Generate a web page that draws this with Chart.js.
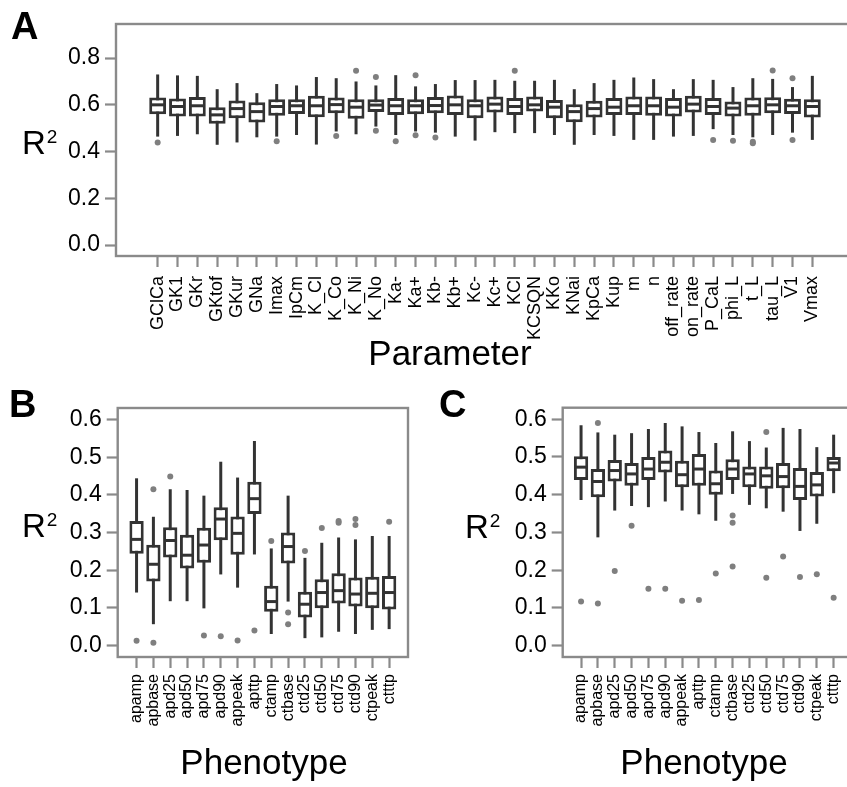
<!DOCTYPE html>
<html>
<head>
<meta charset="utf-8">
<script src="https://cdn.jsdelivr.net/npm/chart.js@4.4.1/dist/chart.umd.min.js"></script>
<style>
  html, body { margin: 0; padding: 0; background: #fff; }
  body { position: relative; width: 847px; height: 787px; overflow: hidden; }
  canvas { position: absolute; }
</style>
</head>
<body>
<canvas id="chartA" width="900" height="380" style="left:0;top:0"></canvas>
<canvas id="chartB" width="420" height="407" style="left:0;top:380px"></canvas>
<canvas id="chartC" width="480" height="407" style="left:420px;top:380px"></canvas>
<script>
/* ── Data ─────────────────────────────────────────────── */

// Panel A: R^2 by parameter
const paramNames = ['GClCa', 'GK1', 'GKr', 'GKtof', 'GKur', 'GNa', 'Imax', 'IpCm', 'K_Cl', 'K_Co',
  'K_Ni', 'K_No', 'Ka-', 'Ka+', 'Kb-', 'Kb+', 'Kc-', 'Kc+', 'KCl', 'KCSQN', 'KKo', 'KNai', 'KpCa',
  'Kup', 'm', 'n', 'off_rate', 'on_rate', 'P_CaL', 'phi_L', 't_L', 'tau_L', 'V1', 'Vmax'];
const paramLow = [0.464, 0.467, 0.474, 0.429, 0.439, 0.461, 0.464, 0.471, 0.430, 0.486,
  0.474, 0.507, 0.471, 0.486, 0.481, 0.464, 0.447, 0.483, 0.479, 0.479, 0.471, 0.429, 0.471,
  0.467, 0.450, 0.450, 0.464, 0.467, 0.496, 0.471, 0.461, 0.471, 0.481, 0.450];
const paramQ1 = [0.560, 0.550, 0.550, 0.519, 0.543, 0.524, 0.553, 0.561, 0.547, 0.564,
  0.540, 0.569, 0.556, 0.560, 0.564, 0.557, 0.543, 0.567, 0.557, 0.571, 0.543, 0.526, 0.546,
  0.557, 0.557, 0.553, 0.550, 0.567, 0.557, 0.550, 0.553, 0.564, 0.561, 0.546];
const paramMed = [0.600, 0.593, 0.596, 0.557, 0.584, 0.571, 0.593, 0.596, 0.596, 0.601,
  0.590, 0.599, 0.596, 0.596, 0.597, 0.600, 0.596, 0.603, 0.593, 0.600, 0.590, 0.571, 0.584,
  0.590, 0.596, 0.596, 0.590, 0.603, 0.593, 0.586, 0.596, 0.600, 0.596, 0.593];
const paramQ3 = [0.631, 0.627, 0.634, 0.590, 0.619, 0.611, 0.624, 0.624, 0.639, 0.631,
  0.624, 0.624, 0.629, 0.624, 0.634, 0.640, 0.624, 0.636, 0.629, 0.636, 0.621, 0.603, 0.617,
  0.629, 0.636, 0.636, 0.629, 0.639, 0.629, 0.614, 0.631, 0.633, 0.626, 0.624];
const paramHigh = [0.730, 0.726, 0.724, 0.667, 0.693, 0.650, 0.689, 0.683, 0.719, 0.714,
  0.700, 0.683, 0.727, 0.679, 0.689, 0.706, 0.706, 0.707, 0.703, 0.703, 0.707, 0.667, 0.693,
  0.707, 0.717, 0.710, 0.667, 0.710, 0.707, 0.676, 0.714, 0.711, 0.676, 0.724];
const paramOut = [[0.439], [], [], [], [], [], [0.444], [], [], [0.467],
  [0.746], [0.719, 0.489], [0.444], [0.727, 0.470], [0.460], [], [], [], [0.746], [], [], [], [],
  [], [], [], [], [], [0.450], [0.446], [0.436, 0.442], [0.747], [0.714, 0.450], []];
const paramTicks = [0, 0.2, 0.4, 0.6, 0.8];

// Panels B and C: R^2 by phenotype
const phenoNames = ['apamp', 'apbase', 'apd25', 'apd50', 'apd75', 'apd90', 'appeak', 'apttp',
  'ctamp', 'ctbase', 'ctd25', 'ctd50', 'ctd75', 'ctd90', 'ctpeak', 'ctttp'];
const phenoTicks = [0, 0.1, 0.2, 0.3, 0.4, 0.5, 0.6];

const bLow = [0.141, 0.057, 0.118, 0.118, 0.099, 0.189, 0.154, 0.242,
  0.031, 0.117, 0.020, 0.022, 0.037, 0.031, 0.042, 0.044];
const bQ1 = [0.244, 0.170, 0.234, 0.205, 0.220, 0.280, 0.241, 0.349,
  0.090, 0.218, 0.075, 0.099, 0.112, 0.104, 0.099, 0.096];
const bMed = [0.282, 0.216, 0.279, 0.240, 0.267, 0.336, 0.298, 0.390,
  0.117, 0.263, 0.110, 0.141, 0.146, 0.137, 0.139, 0.141];
const bQ3 = [0.331, 0.268, 0.314, 0.294, 0.313, 0.367, 0.343, 0.435,
  0.159, 0.300, 0.143, 0.176, 0.192, 0.181, 0.183, 0.185];
const bHigh = [0.444, 0.342, 0.415, 0.413, 0.398, 0.488, 0.446, 0.543,
  0.258, 0.398, 0.233, 0.273, 0.287, 0.282, 0.291, 0.291];
const bOut = [[0.013], [0.415, 0.008], [0.449], [], [0.027], [0.025], [0.014], [0.040],
  [0.278], [0.088, 0.057], [0.251], [0.312], [0.326, 0.331], [0.336, 0.320], [], [0.329]];

const cLow = [0.386, 0.287, 0.358, 0.370, 0.367, 0.382, 0.358, 0.348,
  0.331, 0.402, 0.373, 0.364, 0.355, 0.304, 0.323, 0.404];
const cQ1 = [0.439, 0.393, 0.435, 0.424, 0.439, 0.459, 0.420, 0.424,
  0.400, 0.439, 0.420, 0.416, 0.417, 0.386, 0.395, 0.462];
const cMed = [0.473, 0.435, 0.464, 0.455, 0.468, 0.486, 0.453, 0.468,
  0.429, 0.468, 0.455, 0.450, 0.448, 0.422, 0.426, 0.484];
const cQ3 = [0.502, 0.468, 0.492, 0.484, 0.500, 0.517, 0.490, 0.508,
  0.464, 0.494, 0.475, 0.475, 0.484, 0.471, 0.460, 0.500];
const cHigh = [0.584, 0.565, 0.559, 0.563, 0.574, 0.590, 0.581, 0.566,
  0.537, 0.568, 0.542, 0.525, 0.577, 0.574, 0.526, 0.559];
const cOut = [[0.117], [0.590, 0.112], [0.198], [0.318], [0.151], [0.151], [0.119], [0.121],
  [0.191], [0.345, 0.326, 0.210], [], [0.566, 0.180], [0.236], [0.182], [0.189], [0.127]];

/* ── Styles ───────────────────────────────────────────── */

const FONT = '"Liberation Sans", Arial, Helvetica, sans-serif';
const INK = '#333333';
const FRAME = '#8a8a8a';
const DOT = '#7f7f7f';
const LINE = 3;

/* ── Box plot plugin: whiskers, medians, frame, labels ── */

const boxPlugin = {
  id: 'boxplot',
  beforeDatasetsDraw(chart, args, opts) {
    const { ctx, scales: { x, y } } = chart;
    ctx.save();
    ctx.strokeStyle = INK;
    ctx.lineWidth = LINE;
    opts.low.forEach((lo, i) => {
      const px = x.getPixelForValue(i);
      ctx.beginPath();
      ctx.moveTo(px, y.getPixelForValue(lo));
      ctx.lineTo(px, y.getPixelForValue(opts.high[i]));
      ctx.stroke();
    });
    ctx.restore();
  },
  afterDatasetDraw(chart, args, opts) {
    if (args.index !== 0) return;
    const { ctx, scales: { y } } = chart;
    const bars = chart.getDatasetMeta(0).data;
    ctx.save();
    ctx.strokeStyle = INK;
    ctx.lineWidth = LINE;
    opts.med.forEach((m, i) => {
      const { x: bx, width } = bars[i].getProps(['x', 'width'], true);
      const py = y.getPixelForValue(m);
      ctx.beginPath();
      ctx.moveTo(bx - width / 2 + 1, py);
      ctx.lineTo(bx + width / 2 - 1, py);
      ctx.stroke();
    });
    ctx.restore();
  },
  afterDraw(chart, args, opts) {
    const { ctx, chartArea: a } = chart;
    ctx.save();
    ctx.strokeStyle = FRAME;
    ctx.lineWidth = 2.4;
    ctx.strokeRect(a.left, a.top, a.right - a.left, a.bottom - a.top);

    ctx.fillStyle = '#000';
    ctx.textBaseline = 'alphabetic';
    ctx.textAlign = 'left';
    ctx.font = `bold 38px ${FONT}`;
    ctx.fillText(opts.letter, opts.letterX, opts.letterY);

    ctx.font = `33px ${FONT}`;
    ctx.fillText('R', opts.rX, opts.rY);
    const rw = ctx.measureText('R').width;
    ctx.font = `19px ${FONT}`;
    ctx.fillText('2', opts.rX + rw + 1, opts.rY - 11);

    // x-axis title
    ctx.textAlign = 'center';
    ctx.textBaseline = 'middle';
    ctx.font = `35px ${FONT}`;
    ctx.fillText(opts.title, opts.titleX, opts.titleY);
    ctx.restore();
  }
};

/* ── Chart builder ────────────────────────────────────── */

function makeBoxChart(id, cfg) {
  const n = cfg.names.length;
  const boxes = cfg.q1.map((q, i) => ({ x: i, y: [q, cfg.q3[i]] }));
  const dots = [];
  cfg.out.forEach((vals, i) => vals.forEach(v => dots.push({ x: i, y: v })));

  return new Chart(document.getElementById(id), {
    type: 'bar',
    data: {
      datasets: [
        {
          type: 'bar',
          data: boxes,
          backgroundColor: '#ffffff',
          borderColor: INK,
          borderWidth: LINE,
          borderSkipped: false,
          barPercentage: 0.85,
          categoryPercentage: 1,
        },
        {
          type: 'scatter',
          data: dots,
          pointRadius: 3,
          pointBackgroundColor: DOT,
          pointBorderWidth: 0,
        },
      ],
    },
    options: {
      responsive: false,
      animation: false,
      devicePixelRatio: 1,
      layout: { padding: cfg.padding },
      plugins: {
        legend: { display: false },
        tooltip: { enabled: false },
        boxplot: {
          low: cfg.low, high: cfg.high, med: cfg.med,
          letter: cfg.letter, letterX: cfg.letterX, letterY: cfg.letterY,
          rX: cfg.rX, rY: cfg.rY,
          title: cfg.xTitle, titleX: cfg.titleX, titleY: cfg.titleY,
        },
      },
      scales: {
        x: {
          type: 'linear',
          offset: false,
          min: -cfg.pad,
          max: n - 1 + cfg.pad,
          afterBuildTicks: s => { s.ticks = cfg.names.map((_, i) => ({ value: i })); },
          afterFit: s => { s.height = cfg.xHeight; },
          border: { display: false },
          grid: { drawOnChartArea: false, drawTicks: true, tickLength: 11, tickColor: FRAME, tickWidth: 2.2, offset: false },
          ticks: {
            autoSkip: false,
            minRotation: 90,
            maxRotation: 90,
            padding: cfg.xPad,
            color: '#000',
            font: { family: FONT, size: cfg.xFont },
            callback: v => cfg.names[v] ?? '',
          },
        },
        y: {
          min: cfg.yMin,
          max: cfg.yMax,
          afterBuildTicks: s => { s.ticks = cfg.yTicks.map(v => ({ value: v })); },
          afterFit: s => { s.width = cfg.yWidth; },
          border: { display: false },
          grid: { drawOnChartArea: false, drawTicks: true, tickLength: 11, tickColor: FRAME, tickWidth: 2.2 },
          ticks: {
            padding: 5,
            color: '#000',
            font: { family: FONT, size: 23 },
            callback: v => v.toFixed(1),
          },
        },
      },
    },
    plugins: [boxPlugin],
  });
}

makeBoxChart('chartA', {
  names: paramNames, low: paramLow, q1: paramQ1, med: paramMed, q3: paramQ3, high: paramHigh, out: paramOut,
  yTicks: paramTicks, yMin: -0.047, yMax: 0.946, pad: 2.1,
  padding: { left: 0, top: 24, right: 46, bottom: 0 }, yWidth: 116, xHeight: 124,
  xFont: 18, xPad: 9, xTitle: 'Parameter', titleX: 450, titleY: 355,
  letter: 'A', letterX: 11, letterY: 39, rX: 22, rY: 154,
});

makeBoxChart('chartB', {
  names: phenoNames, low: bLow, q1: bQ1, med: bMed, q3: bQ3, high: bHigh, out: bOut,
  yTicks: phenoTicks, yMin: -0.030, yMax: 0.6305, pad: 1.12,
  padding: { left: 0, top: 28, right: 12, bottom: 0 }, yWidth: 117.7, xHeight: 130,
  xFont: 16, xPad: 6, xTitle: 'Phenotype', titleX: 264, titleY: 384,
  letter: 'B', letterX: 9, letterY: 37, rX: 22, rY: 157,
});

makeBoxChart('chartC', {
  names: phenoNames, low: cLow, q1: cQ1, med: cMed, q3: cQ3, high: cHigh, out: cOut,
  yTicks: phenoTicks, yMin: -0.030, yMax: 0.6305, pad: 1.09,
  padding: { left: 0, top: 27.7, right: 48, bottom: 0 }, yWidth: 142.7, xHeight: 130,
  xFont: 16, xPad: 6, xTitle: 'Phenotype', titleX: 284, titleY: 384,
  letter: 'C', letterX: 19, letterY: 37, rX: 45, rY: 158,
});
</script>
</body>
</html>
